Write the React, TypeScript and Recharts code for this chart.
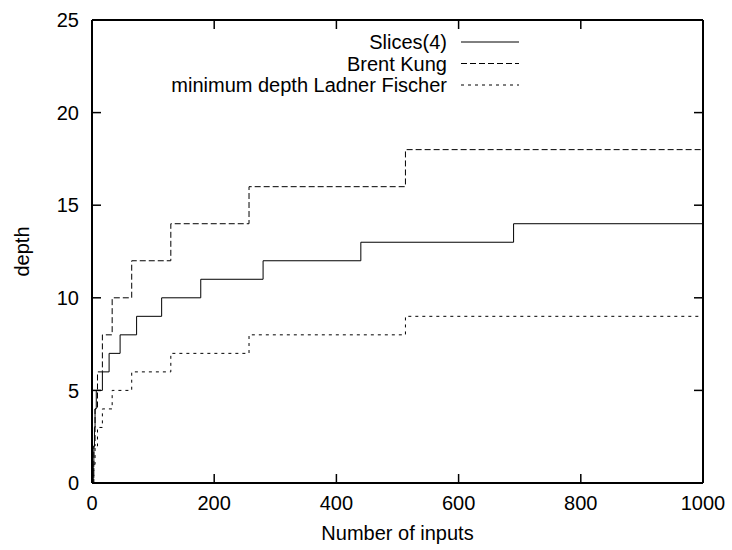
import { LineChart, Line, XAxis, YAxis, Legend, Label, ReferenceLine } from 'recharts';

// step breakpoints: depth holds from n until the next n
const slicesN = [0, 1, 2, 3, 4, 5, 7, 17, 28, 46, 73, 114, 178, 280, 440, 690, 1000];
const slicesDepth = [0, 0, 1, 2, 3, 4, 5, 6, 7, 8, 9, 10, 11, 12, 13, 14, 14];

const brentKungN = [0, 1, 3, 5, 9, 17, 33, 65, 129, 257, 513, 1000];
const brentKungDepth = [0, 0, 2, 4, 6, 8, 10, 12, 14, 16, 18, 18];

const ladnerN = [0, 1, 3, 5, 9, 17, 33, 65, 129, 257, 513, 1000];
const ladnerDepth = [0, 0, 1, 2, 3, 4, 5, 6, 7, 8, 9, 9];

const xTicks = [0, 200, 400, 600, 800, 1000];
const yTicks = [0, 5, 10, 15, 20, 25];

const FONT = '"Liberation Sans", Arial, Helvetica, sans-serif';

const W = 732;
const H = 550;
const MARGIN = { top: 20, right: 29, bottom: 0, left: 0 };
const Y_AXIS_W = 92;
const X_AXIS_H = 67;
const TICK_PX = 9;
const X_MAX = 1000;
const Y_MAX = 25;

// plot box, same numbers the chart lays itself out with
const PLOT_L = MARGIN.left + Y_AXIS_W;
const PLOT_T = MARGIN.top;
const PLOT_R = W - MARGIN.right;
const PLOT_B = H - MARGIN.bottom - X_AXIS_H;
const px = (v: number) => PLOT_L + (v / X_MAX) * (PLOT_R - PLOT_L);
const py = (v: number) => PLOT_B - (v / Y_MAX) * (PLOT_B - PLOT_T);

const zip = (ns: number[], ds: number[]) => ns.map((n, i) => ({ n, depth: ds[i] }));

const SERIES = [
  { name: 'Slices(4)', data: zip(slicesN, slicesDepth), dash: undefined as string | undefined },
  { name: 'Brent Kung', data: zip(brentKungN, brentKungDepth), dash: '6 3' },
  { name: 'minimum depth Ladner Fischer', data: zip(ladnerN, ladnerDepth), dash: '3 4' },
];

const axisLine = { stroke: '#000', strokeWidth: 2 };
const tickLine = { stroke: '#000', strokeWidth: 1.5 };
const tickFont = { fontSize: 20, fill: '#000', fontFamily: FONT };

function renderLegend() {
  return (
    <svg width={W} height={100} style={{ display: 'block', fontFamily: FONT }}>
      {SERIES.map((s, i) => {
        const y = 42 + i * 21.5;
        return (
          <g key={s.name}>
            <text x={447} y={y} textAnchor="end" dominantBaseline="central" fontSize={20} fill="#000">
              {s.name}
            </text>
            <line x1={461} x2={519} y1={y} y2={y} stroke="#000" strokeWidth={1} strokeDasharray={s.dash} />
          </g>
        );
      })}
    </svg>
  );
}

// gnuplot-style mirrored ticks on the top and right sides of the frame
function MirrorTicks() {
  return (
    <svg width={W} height={H} style={{ position: 'absolute', left: 0, top: 0, pointerEvents: 'none' }}>
      {xTicks.map(t => (
        <line key={`tx${t}`} x1={px(t)} x2={px(t)} y1={PLOT_T} y2={PLOT_T + TICK_PX}
          stroke="#000" strokeWidth={1.5} />
      ))}
      {yTicks.map(t => (
        <line key={`ty${t}`} x1={PLOT_R} x2={PLOT_R - TICK_PX} y1={py(t)} y2={py(t)}
          stroke="#000" strokeWidth={1.5} />
      ))}
    </svg>
  );
}

export default function App() {
  return (
    <div style={{ position: 'absolute', left: 0, top: 0, width: W, height: H, background: '#fff' }}>
      <LineChart width={W} height={H} margin={MARGIN}>
        <XAxis
          dataKey="n" type="number" domain={[0, X_MAX]} ticks={xTicks} height={X_AXIS_H}
          axisLine={axisLine} tickLine={tickLine} tickSize={-TICK_PX} tickMargin={22} tick={tickFont}
        >
          <Label
            content={({ viewBox }: any) => (
              <text x={viewBox.x + viewBox.width / 2} y={viewBox.y + 57} textAnchor="middle"
                fontSize={20} fontFamily={FONT} fill="#000">Number of inputs</text>
            )}
          />
        </XAxis>
        <YAxis
          type="number" domain={[0, Y_MAX]} ticks={yTicks} width={Y_AXIS_W}
          axisLine={axisLine} tickLine={tickLine} tickSize={-TICK_PX} tickMargin={22} tick={tickFont}
        >
          <Label
            content={({ viewBox }: any) => {
              const cx = 22;
              const cy = viewBox.y + viewBox.height / 2;
              return (
                <text x={cx} y={cy} transform={`rotate(-90 ${cx} ${cy})`} textAnchor="middle"
                  dominantBaseline="central" fontSize={20} fontFamily={FONT} fill="#000">depth</text>
              );
            }}
          />
        </YAxis>

        {/* top and right sides of the frame */}
        <ReferenceLine y={Y_MAX} stroke="#000" strokeWidth={2} />
        <ReferenceLine x={X_MAX} stroke="#000" strokeWidth={2} />

        <Legend
          layout="vertical" align="center" verticalAlign="middle"
          content={renderLegend}
          wrapperStyle={{ position: 'absolute', left: 0, top: 0, width: W, height: 100 }}
        />
        {SERIES.map(s => (
          <Line
            key={s.name} name={s.name} data={s.data} dataKey="depth" type="stepAfter"
            stroke="#000" strokeWidth={1} strokeDasharray={s.dash}
            dot={false} activeDot={false} isAnimationActive={false}
          />
        ))}
      </LineChart>
      <MirrorTicks />
    </div>
  );
}
